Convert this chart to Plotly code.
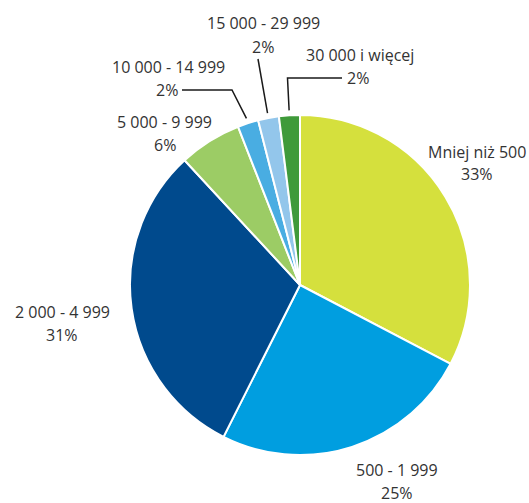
import math
import plotly.graph_objects as go

labels = ["Mniej niż 500", "500 - 1 999", "2 000 - 4 999", "5 000 - 9 999",
          "10 000 - 14 999", "15 000 - 29 999", "30 000 i więcej"]
values = [33, 25, 31, 6, 2, 2, 2]
pct_text = ["33%", "25%", "31%", "6%", "2%", "2%", "2%"]
colors = ["#d5e03d", "#009ee0", "#004a8d", "#9ccc65", "#49ade2", "#93c6eb", "#3f9a3a"]

W, H = 529, 503
CX, CY, R = 300, 285, 170

def px(x):
    return x / W

def py(y):
    return 1 - y / H

fig = go.Figure(go.Pie(
    labels=labels, values=values, sort=False, direction="clockwise", rotation=0,
    marker=dict(colors=colors, line=dict(color="white", width=2)),
    textinfo="none", hoverinfo="label+percent", showlegend=False,
    domain=dict(x=[px(CX - R), px(CX + R)], y=[py(CY + R), py(CY - R)]),
))

# label layout: (x of name line, y of name line, y of percent line, x of percent line)
label_pos = [
    (477, 152, 174, 477),
    (397, 470, 493, 397),
    (62, 312, 335, 62),
    (164, 122, 145, 165),
    (168, 67, 90, 167),
    (263, 23, 47, 263),
    (360, 55, 78, 358),
]

font = dict(family="Open Sans, Noto Sans, sans-serif", size=16, color="#333333")
ann = []
for lab, pct, (x, y1, y2, x2) in zip(labels, pct_text, label_pos):
    ann.append(dict(x=px(x), y=py(y1), xref="paper", yref="paper", text=lab,
                    showarrow=False, font=font, xanchor="center", yanchor="middle"))
    ann.append(dict(x=px(x2), y=py(y2), xref="paper", yref="paper", text=pct,
                    showarrow=False, font=font, xanchor="center", yanchor="middle"))

# leader lines for the small slices, starting just outside the slice mid-angle
total = sum(values)
cum = 0
mids = []
for v in values:
    mids.append((cum + v / 2) / total * 2 * math.pi)
    cum += v

def edge(i, off=5):
    a = mids[i]
    return CX + (R + off) * math.sin(a), CY - (R + off) * math.cos(a)

bends = {
    4: [(232, 90), (182, 90)],
    5: [(258, 59)],
    6: [(287.5, 78), (342, 78)],
}
shapes = []
for i, pts in bends.items():
    ex, ey = edge(i)
    path_pts = [(ex, ey)] + pts
    d = "M " + " L ".join(f"{px(a)},{py(b)}" for a, b in path_pts)
    shapes.append(dict(type="path", path=d, xref="paper", yref="paper",
                       line=dict(color="#1a1a1a", width=1.5)))

fig.update_layout(
    width=W, height=H, margin=dict(l=0, r=0, t=0, b=0),
    paper_bgcolor="white", plot_bgcolor="white",
    annotations=ann, shapes=shapes,
)
fig.write_html("out.html", config={"displayModeBar": False},
               post_script="document.body.style.margin='0';document.body.style.overflow='hidden';")
